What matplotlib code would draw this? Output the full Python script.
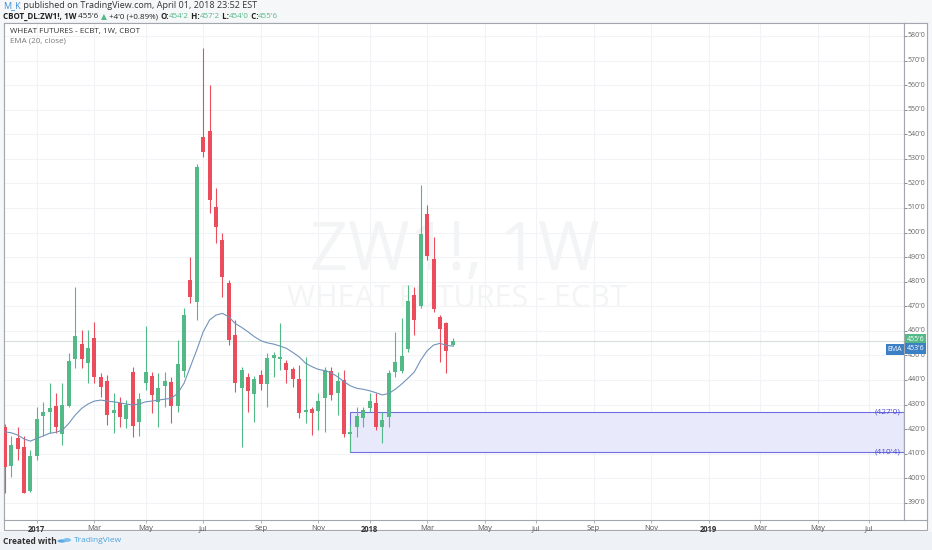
import numpy as np
import pandas as pd
import matplotlib
matplotlib.use("Agg")
import matplotlib.pyplot as plt
import matplotlib.transforms as mtransforms
from matplotlib.patches import Rectangle, Ellipse

W, H = 932, 550
FONT = ["Open Sans", "DejaVu Sans"]

# weekly bars, CBOT wheat (ZW1!)
weeks = pd.date_range("2016-11-28", periods=71, freq="W-MON")
opens = [421.0, 405.0, 416.2, 412.8, 395.0, 409.0, 425.3, 426.9, 429.5, 418.0,
         429.5, 448.4, 454.6, 447.0, 457.2, 441.3, 439.7, 426.4, 430.7, 424.0,
         443.3, 422.7, 438.6, 441.6, 430.9, 437.5, 439.0, 429.3, 443.6, 480.7,
         471.8, 539.0, 541.3, 510.3, 496.9, 479.3, 458.3, 436.8, 441.3, 434.1,
         441.9, 438.3, 449.0, 448.5, 447.0, 444.4, 440.4, 426.8, 428.1, 427.4,
         432.5, 443.6, 434.5, 439.9, 418.2, 420.7, 424.6, 428.4, 430.7, 420.7,
         425.0, 443.3, 443.7, 452.4, 474.5, 470.2, 507.4, 489.2, 465.5, 463.0, 454.25]
highs = [422.0, 417.0, 421.0, 417.0, 411.5, 429.0, 431.0, 438.6, 434.8, 438.7,
         450.8, 477.9, 460.3, 460.3, 463.7, 442.7, 442.0, 434.5, 433.2, 431.8,
         445.4, 434.5, 461.9, 443.4, 442.7, 443.4, 441.3, 456.2, 469.1, 490.1,
         528.0, 575.0, 560.0, 518.0, 499.8, 480.7, 464.4, 445.4, 442.7, 441.6,
         444.0, 450.8, 451.5, 463.1, 448.1, 445.4, 446.0, 449.4, 429.1, 434.5,
         445.4, 445.4, 443.4, 444.0, 421.6, 429.1, 429.1, 434.5, 434.5, 427.0,
         444.0, 459.6, 465.1, 478.6, 477.9, 519.3, 511.2, 498.3, 466.4, 463.7, 457.25]
lows = [393.9, 400.6, 407.4, 393.8, 394.5, 407.4, 417.0, 418.4, 418.3, 413.5,
        429.0, 444.7, 444.7, 438.7, 438.6, 433.2, 421.6, 418.3, 420.9, 420.3,
        416.9, 417.2, 435.9, 426.6, 420.9, 429.1, 422.3, 427.0, 441.3, 471.2,
        464.4, 530.9, 507.8, 495.6, 473.9, 454.2, 435.2, 412.8, 427.0, 423.0,
        435.9, 428.8, 441.3, 444.0, 438.6, 437.2, 424.5, 422.3, 417.5, 419.6,
        418.9, 431.8, 425.7, 416.9, 410.5, 416.9, 420.9, 427.0, 419.6, 414.2,
        420.9, 441.3, 442.7, 451.4, 458.3, 469.1, 488.8, 467.7, 447.4, 442.7, 454.0]
closes = [404.6, 413.5, 411.7, 394.0, 409.0, 424.0, 426.8, 428.7, 420.9, 430.0,
          447.8, 457.7, 448.4, 453.0, 441.3, 437.0, 425.7, 427.7, 425.0, 430.0,
          421.3, 432.2, 443.2, 433.8, 436.8, 439.4, 429.5, 446.4, 466.3, 473.6,
          526.8, 532.6, 513.2, 502.1, 482.0, 456.2, 438.6, 444.0, 435.6, 440.2,
          438.3, 448.8, 450.3, 449.4, 444.0, 440.2, 426.5, 427.7, 426.4, 431.4,
          444.0, 433.8, 439.5, 418.2, 419.0, 425.3, 427.7, 431.5, 420.9, 423.6,
          442.7, 447.4, 449.7, 472.2, 464.6, 499.4, 490.5, 468.8, 460.6, 451.75, 455.75]
ema20 = [418.9, 418.5, 417.6, 416.0, 415.1, 416.2, 417.2, 418.3, 418.7, 419.6,
         422.3, 425.7, 428.4, 430.2, 431.4, 431.8, 431.4, 431.1, 430.7, 430.2,
         429.8, 430.2, 431.1, 431.4, 431.8, 432.2, 432.5, 434.5, 438.6, 445.4,
         452.2, 459.6, 464.4, 466.4, 467.1, 465.7, 463.0, 461.4, 459.6, 457.6,
         456.0, 455.1, 454.6, 453.8, 452.9, 451.2, 449.4, 446.8, 445.4, 444.3,
         443.8, 442.9, 441.3, 439.3, 437.6, 436.6, 436.2, 435.6, 434.8, 433.9,
         434.5, 436.2, 438.3, 440.7, 443.3, 448.1, 451.9, 454.2, 454.9, 454.1, 453.75]

zone_start = pd.Timestamp("2017-12-11")
zone_low, zone_high = 410.5, 427.0
zone_labels = ["(410'4)", "(427'0)"]
last_close, last_ema = 455.75, 453.75
price_ticks = list(range(390, 590, 10))

UP, DOWN = "#53b987", "#eb4d5c"
GRID = "#f1f3f6"
FRAME = "#a3a6ad"


def fx(px):
    return px / W


def fy(py):
    return 1 - py / H


fig = plt.figure(figsize=(W / 100, H / 100), dpi=100, facecolor="#f6f7f9")

# chart frame (white card)
fig.add_artist(Rectangle((fx(3.5), fy(530)), fx(927.3) - fx(3.5), fy(22.7) - fy(530),
                         transform=fig.transFigure, facecolor="white", edgecolor=FRAME,
                         lw=0.8, zorder=0))
# footer strip
fig.add_artist(Rectangle((0, 0), 1, fy(531.5), transform=fig.transFigure,
                         facecolor="#eef2f6", edgecolor="none", zorder=0))

ax = fig.add_axes([fx(3.5), fy(520), fx(904) - fx(3.5), fy(22.7) - fy(520)])
ax.set_facecolor("white")
n_axis = 141
axis_dates = pd.date_range(weeks[0], periods=n_axis, freq="W-MON")
x = np.arange(len(weeks))
ax.set_xlim(-0.2, 140.5)
ax.set_ylim(383.0, 585.4)

# month ticks (every second month, year at January)
tick_pos, tick_lab = [], []
for i in range(1, n_axis):
    d = axis_dates[i]
    if d.month != axis_dates[i - 1].month and d.month % 2 == 1:
        tick_pos.append(i)
        tick_lab.append(str(d.year) if d.month == 1 else d.strftime("%b"))

for p in price_ticks:
    ax.axhline(p, color=GRID, lw=0.8, zorder=0)
for t in tick_pos:
    ax.axvline(t, color=GRID, lw=0.8, zorder=0)

# watermark
ax.text(0.501, 0.539, "ZW1!, 1W", transform=ax.transAxes, ha="center", va="center",
        fontsize=48, color="#f3f4f5", family=FONT, zorder=0.5)
ax.text(0.504, 0.444, "WHEAT FUTURES - ECBT", transform=ax.transAxes, ha="center",
        va="center", fontsize=22, color="#f3f4f5", family=FONT, zorder=0.5)

# support zone
zi = int(np.where(weeks == zone_start)[0][0])
ax.add_patch(Rectangle((zi, zone_low), 140.5 - zi, zone_high - zone_low,
                       facecolor="#e9e9fc", edgecolor="#6e6ee0", lw=0.8, zorder=1))
blend = mtransforms.blended_transform_factory(ax.transAxes, ax.transData)
for val, lab in zip([zone_low, zone_high], zone_labels):
    ax.text(0.996, val, lab, transform=blend, ha="right", va="center",
            fontsize=6, color="#4f4fd0", family=FONT, zorder=5)

# last price line
ax.axhline(last_close, color="#d5e0db", lw=0.8, zorder=1)

# candles
cols = [UP if c >= o else DOWN for o, c in zip(opens, closes)]
ax.vlines(x, lows, highs, colors=cols, lw=0.8, zorder=2)
bottoms = np.minimum(opens, closes)
heights = np.maximum(np.abs(np.array(closes) - np.array(opens)), 0.5)
ax.bar(x, heights, bottom=bottoms, width=0.6, color=cols, edgecolor="none", zorder=3)

ax.plot(x, ema20, color="#7393b9", lw=0.8, zorder=4)

ax.text(0.998, last_ema, "EMA", transform=blend, ha="right", va="top", fontsize=5,
        color="white", family=FONT, zorder=6,
        bbox=dict(facecolor="#3b80c4", edgecolor="none", pad=1.2))

ax.set_xticks(tick_pos)
ax.set_xticklabels(tick_lab)
ax.set_yticks([])
ax.tick_params(axis="x", length=2, width=0.6, color=FRAME, pad=1.5, labelsize=5.5,
               labelcolor="#555555")
for lab in ax.get_xticklabels():
    lab.set_family(FONT)
    if lab.get_text().isdigit():
        lab.set_fontweight("bold")
        lab.set_color("#333333")
for s in ax.spines.values():
    s.set_color(FRAME)
    s.set_linewidth(0.8)

# price scale
ax2 = fig.add_axes([fx(904), fy(520), fx(927.3) - fx(904), fy(22.7) - fy(520)])
ax2.set_ylim(ax.get_ylim())
ax2.set_xlim(0, 1)
ax2.set_xticks([])
ax2.set_yticks(price_ticks)
ax2.tick_params(axis="y", direction="in", length=2.5, width=0.6, color="#777777",
                labelleft=False)
for s in ax2.spines.values():
    s.set_color(FRAME)
    s.set_linewidth(0.8)
blend2 = mtransforms.blended_transform_factory(ax2.transAxes, ax2.transData)
for p in price_ticks:
    ax2.text(0.16, p, f"{p}'0", transform=blend2, ha="left", va="center",
             fontsize=5, color="#666666", family=FONT)
ax2.annotate("455'6", (0.5, last_close), xycoords=blend2, xytext=(0, 1.6),
             textcoords="offset points", ha="center", va="center", fontsize=5,
             color="white", family=FONT,
             bbox=dict(facecolor=UP, edgecolor="none", pad=1.3))
ax2.annotate("453'6", (0.5, last_ema), xycoords=blend2, xytext=(0, -1.6),
             textcoords="offset points", ha="center", va="center", fontsize=5,
             color="white", family=FONT,
             bbox=dict(facecolor="#3b80c4", edgecolor="none", pad=1.3))

# legend texts inside chart
fig.text(fx(10), fy(31), "WHEAT FUTURES - ECBT, 1W, CBOT", fontsize=5.8, color="#333333",
         family=FONT, va="center")
fig.text(fx(10), fy(41.5), "EMA (20, close)", fontsize=5.8, color="#777777",
         family=FONT, va="center")

# header lines with mixed colours
renderer = fig.canvas.get_renderer()


def run_text(px, py, parts, size):
    for s, color, weight in parts:
        t = fig.text(fx(px), fy(py), s, fontsize=size, color=color, fontweight=weight,
                     family=FONT, va="center", ha="left")
        px += t.get_window_extent(renderer=renderer).width
    return px


run_text(3, 6, [("M_K", "#3a8fd9", "normal"),
                (" published on TradingView.com, April 01, 2018 23:52 EST", "#333333", "normal")], 6.5)
hx = run_text(3, 16.5, [("CBOT_DL:ZW1!, 1W", "#222222", "bold"),
                        (" 455'6", "#222222", "normal")], 5.8)
fig.text(fx(hx + 2), fy(16.5), "\u25b2", fontsize=5.5, color=UP, family=["DejaVu Sans"],
         va="center", ha="left")
run_text(hx + 8.5, 16.5, [(" +4'0 (+0.89%) ", "#222222", "normal"),
                          ("O:", "#222222", "bold"), ("454'2", UP, "normal"),
                          (" H:", "#222222", "bold"), ("457'2", UP, "normal"),
                          (" L:", "#222222", "bold"), ("454'0", UP, "normal"),
                          (" C:", "#222222", "bold"), ("455'6", UP, "normal")], 5.8)

# footer
fig.text(fx(3), fy(541), "Created with", fontsize=6, color="#333333", fontweight="bold",
         family=FONT, va="center")
fig.add_artist(Ellipse((fx(62), fy(541)), fx(9), fx(5.5), transform=fig.transFigure,
                       facecolor="#5aa9e0", edgecolor="none"))
fig.add_artist(Ellipse((fx(67), fy(540)), fx(8), fx(6.5), transform=fig.transFigure,
                       facecolor="#7cc0ec", edgecolor="none"))
fig.text(fx(74), fy(541), "TradingView", fontsize=6, color="#4aa3df",
         family=FONT, va="center")

fig.savefig("out.png", dpi=100, facecolor=fig.get_facecolor())
